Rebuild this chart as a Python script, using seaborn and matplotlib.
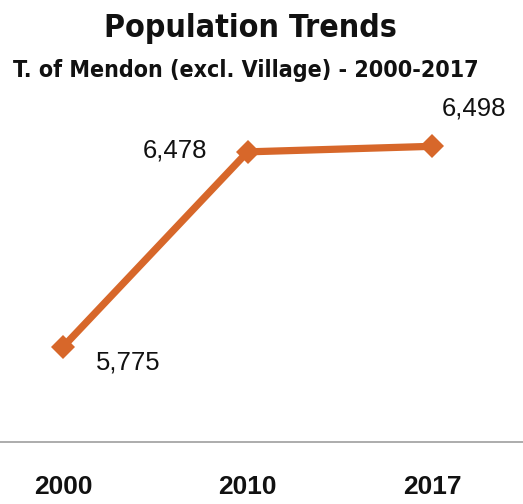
import matplotlib
matplotlib.use("Agg")
import matplotlib.pyplot as plt
import seaborn as sns
import pandas as pd

years = ["2000", "2010", "2017"]
population = [5775, 6478, 6498]
labels = ["5,775", "6,478", "6,498"]

sns.set_theme(style="white")
plt.rcParams['font.family'] = ['Liberation Sans', 'DejaVu Sans']

df = pd.DataFrame({"year": years, "pop": population})

fig = plt.figure(figsize=(5.23, 5.04), dpi=100)
ax = fig.add_axes([0, 1 - 442 / 504, 1, (442 - 100) / 504])

color = "#D7672A"
sns.lineplot(data=df, x="year", y="pop", ax=ax, color=color, linewidth=5.2,
             marker="D", markersize=12, markeredgewidth=0, sort=False)

ax.set_xlim(-0.342, 2.493)
ax.set_ylim(5432, 6665)

offsets = [(47, -11), (-52, 1), (30, 27)]
for i, (lab, off) in enumerate(zip(labels, offsets)):
    ax.annotate(lab, (i, population[i]), xytext=off, textcoords="offset points",
                ha="center", va="center", fontsize=18.5, color="#111111")

for s in ["top", "right", "left"]:
    ax.spines[s].set_visible(False)
ax.spines["bottom"].set_color("#A6A6A6")
ax.spines["bottom"].set_linewidth(1.3)
ax.set_yticks([])
ax.set_xlabel("")
ax.set_ylabel("")
ax.tick_params(axis="x", length=0, pad=24, labelsize=19)
for t in ax.get_xticklabels():
    t.set_fontweight("bold")
    t.set_color("#111111")

title_family = ["DejaVu Sans"]
fig.text(250 / 523, 1 - 28 / 504, "Population Trends", ha="center", va="center",
         fontsize=23, fontweight="bold", family=title_family, fontstretch="condensed",
         color="#111111")
fig.text(246 / 523, 1 - 70 / 504, "T. of Mendon (excl. Village) - 2000-2017", ha="center",
         va="center", fontsize=16.7, fontweight="bold", family=title_family,
         fontstretch="condensed", color="#111111")

fig.savefig("out.png", dpi=100)
